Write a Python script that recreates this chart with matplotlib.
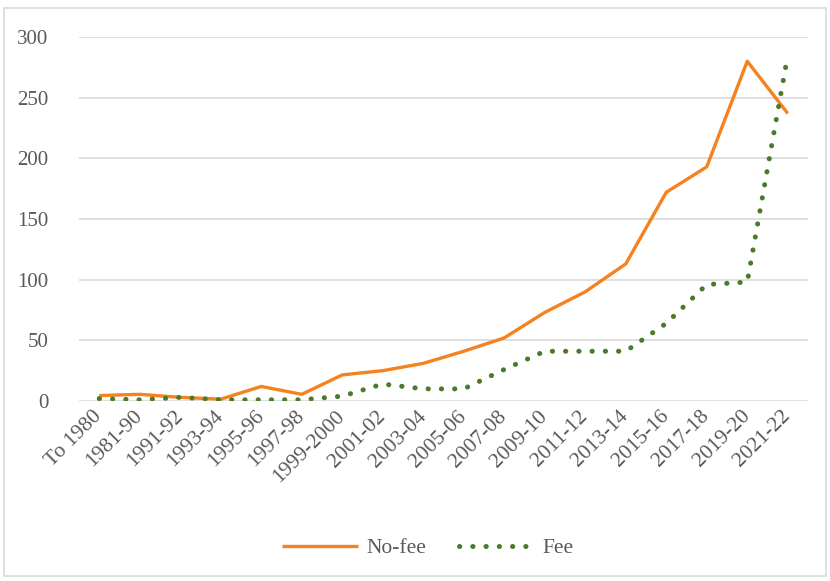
import matplotlib
matplotlib.use("Agg")
import matplotlib.pyplot as plt
import matplotlib.transforms as mtransforms
from matplotlib.patches import Rectangle

categories = ["To 1980", "1981-90", "1991-92", "1993-94", "1995-96", "1997-98",
              "1999-2000", "2001-02", "2003-04", "2005-06", "2007-08", "2009-10",
              "2011-12", "2013-14", "2015-16", "2017-18", "2019-20", "2021-22"]
no_fee = [4.5, 5.5, 3, 1.5, 12, 5.5, 21.5, 25, 31, 41, 52, 73, 90, 113, 172, 193, 280, 237]
fee = [2, 1, 3, 1, 1, 1, 4, 14, 10, 10, 26, 41, 41, 41, 64, 96, 98, 285]
yticks = [0, 50, 100, 150, 200, 250, 300]

plt.rcParams['font.family'] = ['Liberation Serif', 'DejaVu Serif']
text_color = '#595959'

fig = plt.figure(figsize=(8.3, 5.81), dpi=100)
ax = fig.add_axes([79/830, 1-401/581, (808-79)/830, (401-37)/581])

x = list(range(len(categories)))
ax.plot(x, no_fee, color='#F5821F', lw=2.4, solid_capstyle='butt', label='No-fee', zorder=3)
ax.plot(x, fee, color='#4A7B2B', lw=3.6, linestyle=(0, (0.05, 2.6)), dash_capstyle='round',
        label='Fee', zorder=3)

ax.set_xlim(-0.5, len(categories) - 0.5)
ax.set_ylim(0, 300)
ax.set_yticks(yticks)
ax.set_yticklabels([str(v) for v in yticks], fontsize=15, color=text_color)
ax.set_xticks(x)
ax.set_xticklabels(categories, fontsize=15.5, color=text_color, rotation=45,
                   ha='right', va='center', rotation_mode='anchor')
offset = mtransforms.ScaledTranslation(9/100, 0, fig.dpi_scale_trans)
for lab in ax.get_xticklabels():
    lab.set_transform(lab.get_transform() + offset)
ax.tick_params(axis='both', length=0)
ax.tick_params(axis='y', pad=22)
ax.tick_params(axis='x', pad=9)
ax.grid(axis='y', color='#D9D9D9', lw=1.2)
ax.set_axisbelow(True)
for s in ax.spines.values():
    s.set_visible(False)

leg = fig.legend(loc='center', bbox_to_anchor=(428/830, 1-548/581), ncol=2, frameon=False,
                 fontsize=15.5, handlelength=3.5, columnspacing=1.5, handletextpad=0.4)
for t in leg.get_texts():
    t.set_color(text_color)

fig.patches.append(Rectangle((4/830, 5/581), 822/830, 568/581, transform=fig.transFigure,
                             fill=False, edgecolor='#D9D9D9', lw=1.2))

fig.savefig('out.png', dpi=100)
